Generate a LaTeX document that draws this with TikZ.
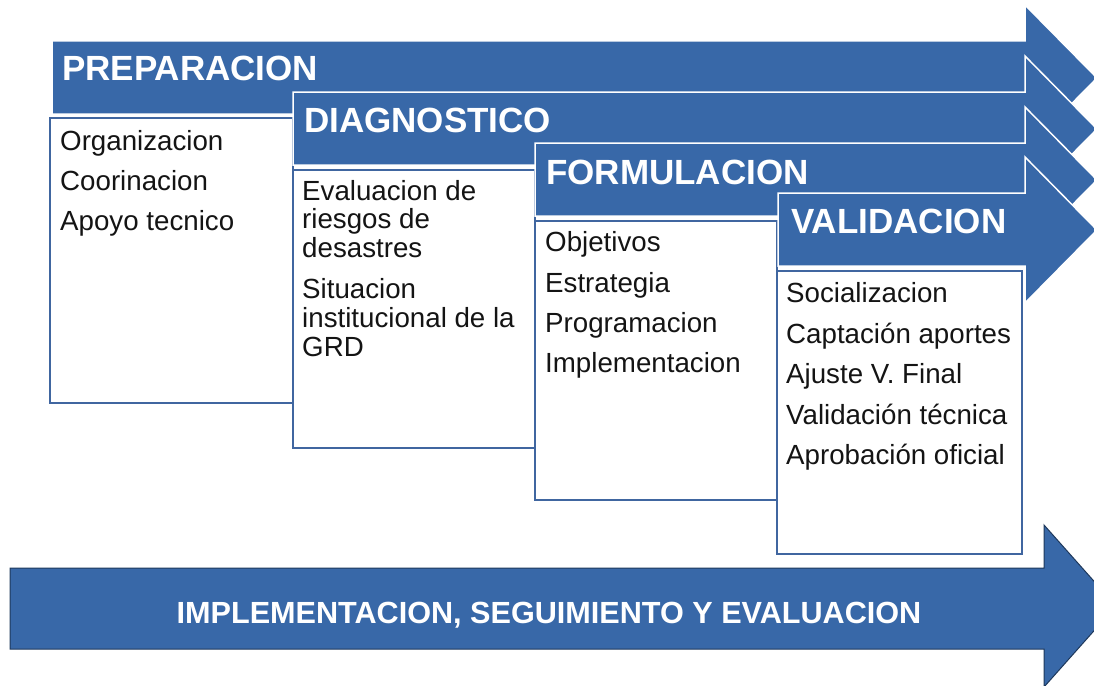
\documentclass[tikz,border=0pt]{standalone}
\usepackage{fontspec}
\setmainfont{Liberation Sans}
\definecolor{phase}{RGB}{56,104,168}
\definecolor{boxline}{RGB}{64,102,160}
\definecolor{ink}{RGB}{20,20,20}
\tikzset{
  phasearrow/.style={fill=phase, draw=white, line width=1.5pt, line join=miter},
  contentbox/.style={fill=white, draw=boxline, line width=1.8pt},
  phasetitle/.style={text=white, font=\fontsize{35}{40}\selectfont\bfseries, anchor=base west, inner sep=0pt},
  item/.style={text=ink, font=\fontsize{27.7}{30}\selectfont, anchor=base west, inner sep=0pt},
  bigarrow/.style={fill=phase, draw=phase!55!black, line width=1pt, line join=miter},
  bigtitle/.style={text=white, font=\fontsize{30.6}{34}\selectfont\bfseries, anchor=base, inner sep=0pt}
}
\newcommand\phaseArrow[2]{%
  \path[phasearrow] (#1,#2) -- (1025,#2) -- (1025,#2-36) -- (1097,#2+37)
    -- (1025,#2+110) -- (1025,#2+73) -- (#1,#2+73) -- cycle;}
\begin{document}
\begin{tikzpicture}[x=1pt,y=-1pt]
\useasboundingbox (0,0) rectangle (1094,685);
\clip (0,0) rectangle (1094,685);
\fill[white] (0,0) rectangle (1094,685);

% PREPARACION
\phaseArrow{52}{41}
\node[phasetitle] (t1) at (62,81) {PREPARACION};
\draw[contentbox] (50,118) rectangle (293,403);
\node[item] (i11) at (60,150) {Organizacion};
\node[item] (i12) at (60,190) {Coorinacion};
\node[item] (i13) at (60,230) {Apoyo tecnico};

% DIAGNOSTICO
\phaseArrow{293}{92}
\node[phasetitle] (t2) at (304,132) {DIAGNOSTICO};
\draw[contentbox] (293,170) rectangle (535,448);
\node[item] (i21) at (302,200) {Evaluacion de};
\node[item] (i22) at (302,228) {riesgos de};
\node[item] (i23) at (302,257) {desastres};
\node[item] (i24) at (302,298) {Situacion};
\node[item] (i25) at (302,327) {institucional de la};
\node[item] (i26) at (302,356) {GRD};

% FORMULACION
\phaseArrow{535}{143}
\node[phasetitle] (t3) at (546,184) {FORMULACION};
\draw[contentbox] (535,221) rectangle (777,500);
\node[item] (i31) at (545,251) {Objetivos};
\node[item] (i32) at (545,292) {Estrategia};
\node[item] (i33) at (545,332) {Programacion};
\node[item] (i34) at (545,372) {Implementacion};

% VALIDACION
\phaseArrow{778}{193}
\node[phasetitle] (t4) at (791,233) {VALIDACION};
\draw[contentbox] (777,271) rectangle (1022,554);
\node[item] (i41) at (786,302) {Socializacion};
\node[item] (i42) at (786,343) {Captación aportes};
\node[item] (i43) at (786,383) {Ajuste V. Final};
\node[item] (i44) at (786,424) {Validación técnica};
\node[item] (i45) at (786,464) {Aprobación oficial};

% bottom arrow
\path[bigarrow] (10,568) -- (1044,568) -- (1044,525) -- (1116,606)
  -- (1044,687) -- (1044,649) -- (10,649) -- cycle;
\node[bigtitle] (tb) at (549,623) {IMPLEMENTACION, SEGUIMIENTO Y EVALUACION};
\end{tikzpicture}
\end{document}
